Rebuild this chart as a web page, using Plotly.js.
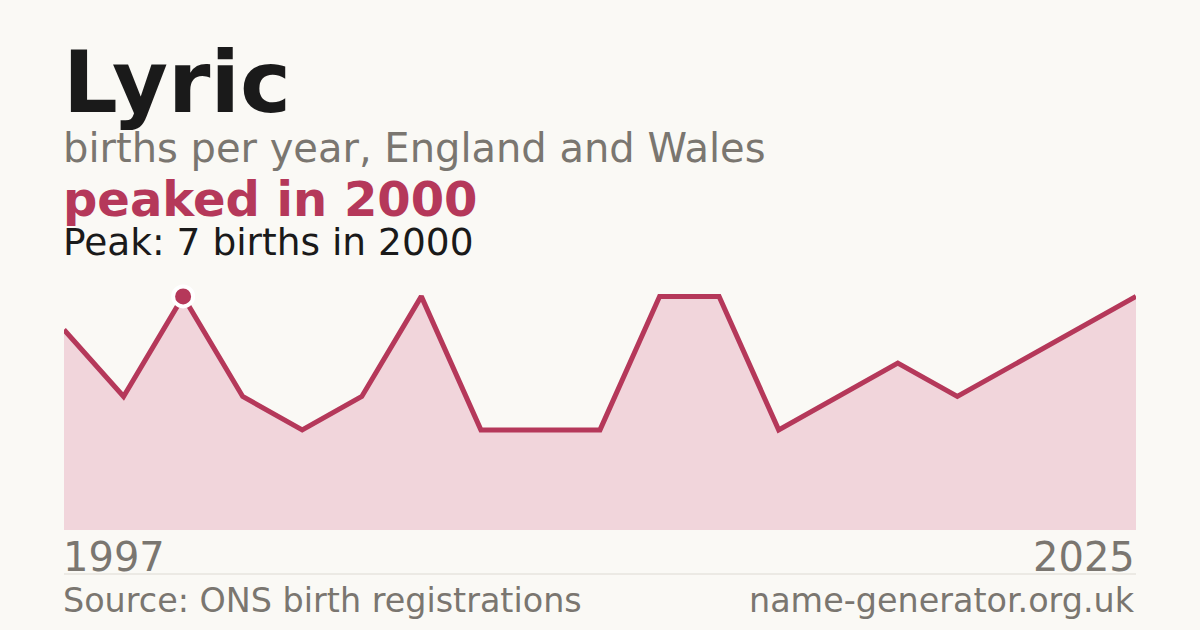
<!DOCTYPE html>
<html>
<head>
<meta charset="utf-8">
<script src="https://cdn.plot.ly/plotly-3.0.1.min.js"></script>
<style>
html,body{margin:0;padding:0;background:#faf9f5;}
#chart{width:1200px;height:630px;}
</style>
</head>
<body>
<div id="chart"></div>
<script>
const years = ["1997","1998","2000","2002","2004","2006","2008","2009","2010","2011","2013","2014","2016","2017","2019","2020","2022","2023","2025"];
const births = [6,4,7,4,3,4,7,3,3,3,7,7,3,4,5,4,5,6,7];
const peakYear = "2000";
const peakValue = 7;
const firstYearLabel = "1997";
const lastYearLabel = "2025";
const titleText = "Lyric";
const subtitleText = "births per year, England and Wales";
const headlineText = "peaked in 2000";
const peakText = "Peak: 7 births in 2000";
const sourceText = "Source: ONS birth registrations";
const siteText = "name-generator.org.uk";

const W = 1200, H = 630;
const mL = 64, mR = 64, mT = 263, mB = 100;
const plotH = H - mT - mB;
const plotW = W - mL - mR;
function py(p){ return (H - mB - p) / plotH; }
function px(p){ return (p - mL) / plotW; }

const ACCENT = "#b5385a";
const GREY = "#7a7670";
const FONT = "DejaVu Sans, sans-serif";

const xs = years.map((y,i)=>i);
const peakIdx = years.indexOf(peakYear);

const traces = [
  {
    x: xs, y: births, type: "scatter", mode: "lines",
    fill: "tozeroy", fillcolor: "#f1d5db",
    line: {color: ACCENT, width: 5, shape: "linear"},
    hoverinfo: "skip"
  },
  {
    x: [peakIdx], y: [peakValue], type: "scatter", mode: "markers",
    marker: {color: ACCENT, size: 20, line: {color: "#ffffff", width: 4}},
    cliponaxis: false, hoverinfo: "skip"
  }
];

function ann(text, x, xanchor, ypx, size, color, bold){
  return {
    text: bold ? "<b>" + text + "</b>" : text,
    x: x, xref: "paper", xanchor: xanchor,
    y: py(ypx), yref: "paper", yanchor: "middle",
    showarrow: false, font: {family: FONT, size: size, color: color},
    borderpad: 0
  };
}

const layout = {
  width: W, height: H,
  paper_bgcolor: "#faf9f5", plot_bgcolor: "#faf9f5",
  margin: {l: mL, r: mR, t: mT, b: mB, pad: 0},
  showlegend: false,
  xaxis: {range: [0, years.length - 1], showgrid: false, zeroline: false, showticklabels: false, showline: false, fixedrange: true},
  yaxis: {range: [0, 8], showgrid: false, zeroline: false, showticklabels: false, showline: false, fixedrange: true},
  shapes: [
    {type: "line", xref: "paper", yref: "paper", x0: 0, x1: 1, y0: py(574), y1: py(574), line: {color: "#dddad3", width: 1}}
  ],
  annotations: [
    ann(titleText, px(62), "left", 82, 86, "#1a1a1a", true),
    ann(subtitleText, px(62), "left", 148, 40, GREY, false),
    ann(headlineText, px(62), "left", 199, 48, ACCENT, true),
    ann(peakText, px(62), "left", 242, 37.5, "#1a1a1a", false),
    ann(firstYearLabel, px(62), "left", 557, 40, GREY, false),
    ann(lastYearLabel, 1, "right", 557, 40, GREY, false),
    ann(sourceText, px(62), "left", 600, 33.4, GREY, false),
    ann(siteText, 1, "right", 600, 33.4, GREY, false)
  ]
};

Plotly.newPlot("chart", traces, layout, {displayModeBar: false, staticPlot: true});
</script>
</body>
</html>
